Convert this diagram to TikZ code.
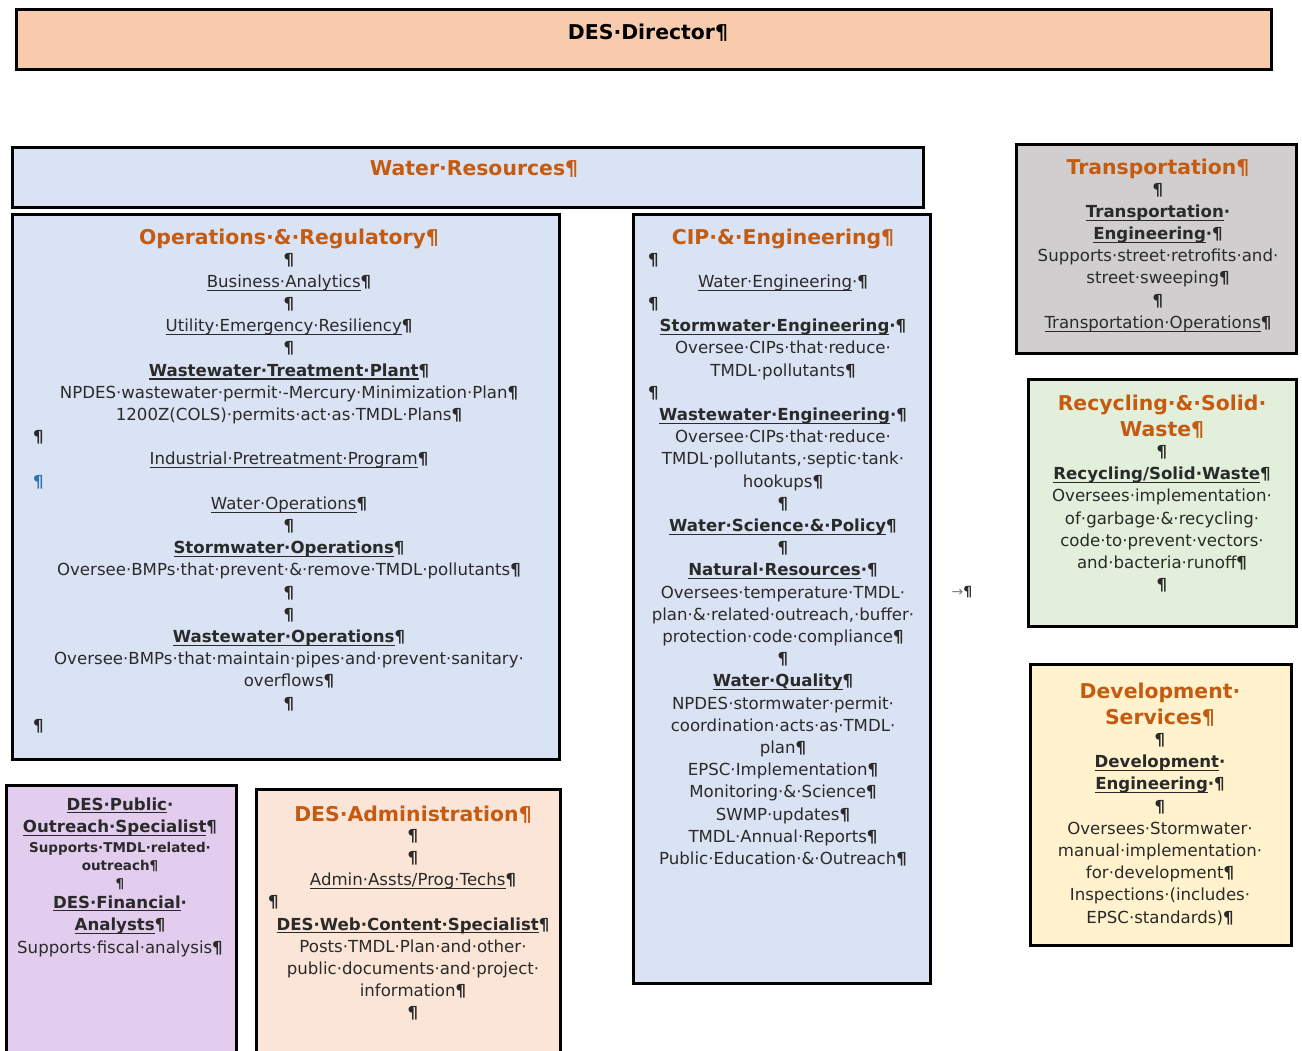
\documentclass[tikz,border=0pt]{standalone}
\usepackage{fontspec}
\setmainfont{DejaVu Sans}
\newsavebox{\ulbox}
\newcommand{\uline}[1]{\leavevmode\sbox{\ulbox}{#1}\rlap{\rule[-3.4pt]{\wd\ulbox}{1.1pt}}\usebox{\ulbox}}
\definecolor{peach}{HTML}{F8CBAD}
\definecolor{lblue}{HTML}{DAE3F3}
\definecolor{lgrey}{HTML}{D0CECE}
\definecolor{lgreen}{HTML}{E2EFDA}
\definecolor{lyellow}{HTML}{FFF2CC}
\definecolor{lpurple}{HTML}{E2CDEF}
\definecolor{lpeach}{HTML}{FBE5D6}
\definecolor{orng}{HTML}{C55A11}
\definecolor{bodycol}{HTML}{2A2A2A}
\definecolor{pilblue}{HTML}{2E75B6}
\newcommand{\bodyfnt}{\fontsize{16.6}{22.2}\selectfont}
\newcommand{\headfnt}{\fontsize{20.4}{24}\selectfont\bfseries\color{orng}}
\newcommand{\smallbfnt}{\fontsize{13.5}{18}\selectfont\bfseries}
\catcode`\¶=\active
\def¶{{\bfseries\char"00B6}}
\newcommand{\lpil}{\makebox[\hsize][l]{¶}}
\tikzset{
  box/.style={draw=black, line width=2.6pt, anchor=north west, inner sep=0pt, rectangle},
  txt/.style={anchor=base, inner sep=0pt, align=center, font=\bodyfnt, text=bodycol},
}
\begin{document}
\begin{tikzpicture}[x=1pt,y=-1pt]
\useasboundingbox (0,0) rectangle (1302,1051);
\fill[white] (0,0) rectangle (1302,1051);

% boxes
\node[box, fill=peach, minimum width=1255pt, minimum height=60pt] (dir) at (15,8) {};
\node[box, fill=lblue, minimum width=911pt, minimum height=60pt] (wr) at (11,146) {};
\node[box, fill=lblue, minimum width=547pt, minimum height=545pt] (op) at (11,213) {};
\node[box, fill=lblue, minimum width=297pt, minimum height=769pt] (cip) at (632,213) {};
\node[box, fill=lgrey, minimum width=280pt, minimum height=209pt] (tr) at (1015,143) {};
\node[box, fill=lgreen, minimum width=268pt, minimum height=247pt] (rc) at (1027,378) {};
\node[box, fill=lyellow, minimum width=261pt, minimum height=281pt] (dv) at (1029,663) {};
\node[box, fill=lpurple, minimum width=230pt, minimum height=290pt] (po) at (5,784) {};
\node[box, fill=lpeach, minimum width=304pt, minimum height=290pt] (ad) at (255,788) {};

% texts
\node[txt, font=\fontsize{20.4}{24}\selectfont\bfseries, text=black] (dirtxt) at (648,40) {DES·Director¶};
\node[txt, font=\fontsize{20.4}{24}\selectfont\bfseries, text=orng] (wrtxt) at (474,176) {Water·Resources¶};

\node[txt, text width=512pt] (optxt) at (289,245) {%
{\headfnt Operations·\&·Regulatory¶}\\[-2pt]
¶\\
\uline{Business·Analytics}¶\\
¶\\
\uline{Utility·Emergency·Resiliency}¶\\
¶\\
\textbf{\uline{Wastewater·Treatment·Plant}¶}\\
NPDES·wastewater·permit·-Mercury·Minimization·Plan¶\\
1200Z(COLS)·permits·act·as·TMDL·Plans¶\\
\lpil\\
\uline{Industrial·Pretreatment·Program}¶\\
\makebox[\hsize][l]{\textcolor{pilblue}{¶}}\\
\uline{Water·Operations}¶\\
¶\\
\textbf{\uline{Stormwater·Operations}¶}\\
Oversee·BMPs·that·prevent·\&·remove·TMDL·pollutants¶\\
¶\\
¶\\
\textbf{\uline{Wastewater·Operations}¶}\\
Oversee·BMPs·that·maintain·pipes·and·prevent·sanitary·\\
overflows¶\\
¶\\
\lpil};

\node[txt, text width=270pt] (ciptxt) at (783,245) {%
{\headfnt CIP·\&·Engineering¶}\\[-2pt]
\lpil\\
\uline{Water·Engineering}·¶\\
\lpil\\
\textbf{\uline{Stormwater·Engineering}·¶}\\
Oversee·CIPs·that·reduce·\\
TMDL·pollutants¶\\
\lpil\\
\textbf{\uline{Wastewater·Engineering}·¶}\\
Oversee·CIPs·that·reduce·\\
TMDL·pollutants,·septic·tank·\\
hookups¶\\
¶\\
\textbf{\uline{Water·Science·\&·Policy}¶}\\
¶\\
\textbf{\uline{Natural·Resources}·¶}\\
Oversees·temperature·TMDL·\\
plan·\&·related·outreach,·buffer·\\
protection·code·compliance¶\\
¶\\
\textbf{\uline{Water·Quality}¶}\\
NPDES·stormwater·permit·\\
coordination·acts·as·TMDL·\\
plan¶\\
EPSC·Implementation¶\\
Monitoring·\&·Science¶\\
SWMP·updates¶\\
TMDL·Annual·Reports¶\\
Public·Education·\&·Outreach¶};

\node[txt, text width=262pt] (trtxt) at (1158,175) {%
{\headfnt Transportation¶}\\[-2pt]
¶\\
\textbf{\uline{Transportation}·}\\
\textbf{\uline{Engineering}·¶}\\
Supports·street·retrofits·and·\\
street·sweeping¶\\
¶\\
\uline{Transportation·Operations}¶};

\node[txt, text width=250pt] (rctxt) at (1162,410) {%
{\headfnt Recycling·\&·Solid·}\\[4pt]
{\headfnt Waste¶}\\[-1pt]
¶\\
\textbf{\uline{Recycling/Solid·Waste}¶}\\
Oversees·implementation·\\
of·garbage·\&·recycling·\\
code·to·prevent·vectors·\\
and·bacteria·runoff¶\\
¶};

\node[txt, text width=250pt] (dvtxt) at (1160,698) {%
{\headfnt Development·}\\[4pt]
{\headfnt Services¶}\\[-1pt]
¶\\
\textbf{\uline{Development}·}\\
\textbf{\uline{Engineering}·¶}\\
¶\\
Oversees·Stormwater·\\
manual·implementation·\\
for·development¶\\
Inspections·(includes·\\
EPSC·standards)¶};

\node[txt, text width=220pt] (potxt) at (120,810) {%
\textbf{\uline{DES·Public}·}\\
\textbf{\uline{Outreach·Specialist}¶}\\[-2pt]
{\smallbfnt Supports·TMDL·related·}\\[-4pt]
{\smallbfnt outreach¶}\\[-4pt]
{\smallbfnt ¶}\\[-3pt]
\textbf{\uline{DES·Financial}·}\\
\textbf{\uline{Analysts}¶}\\[1pt]
Supports·fiscal·analysis¶};

\node[txt, text width=290pt] (adtxt) at (413,821) {%
{\headfnt DES·Administration¶}\\[-2pt]
¶\\
¶\\
\uline{Admin·Assts/Prog·Techs}¶\\
\lpil\\
\textbf{\uline{DES·Web·Content·Specialist}¶}\\
Posts·TMDL·Plan·and·other·\\
public·documents·and·project·\\
information¶\\
¶};

\node[txt, font=\fontsize{14}{16}\selectfont] (tabmark) at (962,596) {\textcolor{gray}{→}¶};
\end{tikzpicture}
\end{document}
